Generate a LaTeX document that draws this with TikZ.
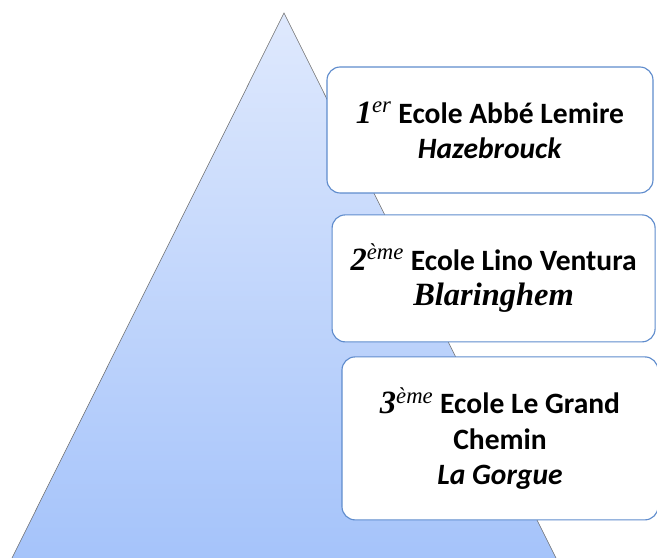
\documentclass[tikz,border=0pt]{standalone}
\usepackage{fontspec}
\setmainfont{Carlito}
\newfontfamily\serifnum[Scale=1.1]{Liberation Serif}
\usepackage{tikz}
\usetikzlibrary{positioning}
\usetikzlibrary{calc}

\definecolor{pyrtop}{RGB}{223,233,253}
\definecolor{pyrbot}{RGB}{163,194,250}
\definecolor{pyrline}{RGB}{110,110,110}
\definecolor{boxline}{RGB}{95,140,205}

\tikzset{school/.style={draw=boxline, fill=white, rounded corners=0.33cm, line width=0.8pt,
	align=center, font=\fontsize{21}{25}\selectfont\bfseries}}

\newcommand{\placenum}[2]{{\serifnum\itshape #1}\textsuperscript{\serifnum\itshape\mdseries #2}}

\begin{document}
\begin{tikzpicture}
\useasboundingbox (0,0) rectangle (16.425,13.95);
\clip (0,0) rectangle (16.425,13.95);

\coordinate (apex) at (7.1,13.625);
\coordinate (baseL) at (0.05,-0.5);
\coordinate (baseR) at (14.15,-0.5);
\path[draw=pyrline, top color=pyrtop, bottom color=pyrbot] (apex) -- (baseR) -- (baseL) -- cycle;

\node[school, minimum width=8.15cm, minimum height=3.15cm] (first) at (12.25,10.7)
	{\placenum{1}{er} Ecole Abbé Lemire\\ \textit{Hazebrouck}};
\node[school, minimum width=8.075cm, minimum height=3.175cm] (second) at (12.34,6.99)
	{\placenum{2}{ème} Ecole Lino Ventura\\ {\serifnum\itshape Blaringhem}};
\node[school, minimum width=7.9cm, minimum height=4.075cm] (third) at (12.5,2.99)
	{\placenum{3}{ème} Ecole Le Grand\\ Chemin\\ \textit{La Gorgue}};

%\draw[dashed] (first) -- (second);
\end{tikzpicture}
\end{document}
